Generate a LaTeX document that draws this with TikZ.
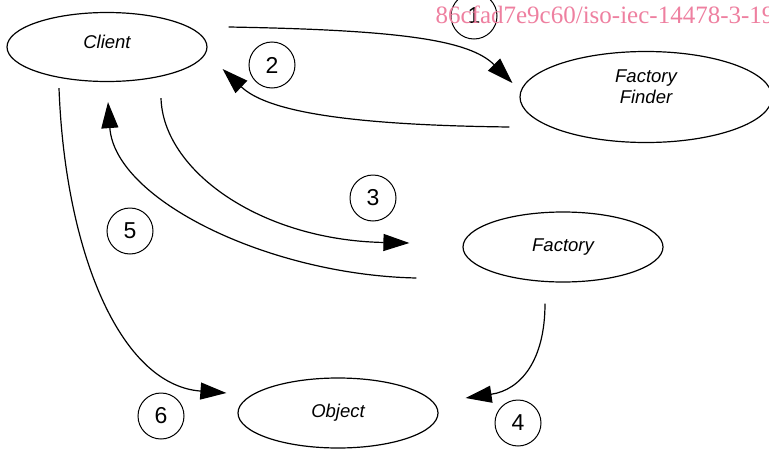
\documentclass[tikz,border=0pt]{standalone}
\usepackage{fontspec}
\setmainfont{Liberation Sans}
\newfontfamily\markfont{Liberation Serif}
\usetikzlibrary{arrows.meta,shapes.geometric}
\definecolor{markpink}{RGB}{238,128,160}

\begin{document}
\begin{tikzpicture}[x=1pt,y=-1pt,line width=1.2pt,
	flow/.style={-{Triangle[length=26pt,width=17pt]}},
	part/.style={ellipse,draw,inner sep=1pt,font=\fontsize{18.5}{21}\selectfont\itshape},
	stepno/.style={circle,draw,line width=1pt,minimum size=46pt,inner sep=0pt,font=\fontsize{23}{25}\selectfont}]
	\useasboundingbox (0,0) rectangle (769,450);
	
	\node[part,minimum width=200pt,minimum height=69pt,text depth=10pt] (client) at (107,47) {Client};
	\node[part,minimum width=252pt,minimum height=91pt,align=center,text depth=20pt] (finder) at (646,97) {Factory\\Finder};
	\node[part,minimum width=200pt,minimum height=70pt] (factory) at (563,247) {Factory};
	\node[part,minimum width=200pt,minimum height=70pt] (object) at (338,413) {Object};
	
	\node[stepno] (s1) at (474,16) {1};
	\node[stepno] (s2) at (272,65) {2};
	\node[stepno] (s3) at (373,198) {3};
	\node[stepno] (s4) at (518,423) {4};
	\node[stepno] (s5) at (130,231) {5};
	\node[stepno] (s6) at (161,416) {6};
	
	\draw[flow] ([shift={(21,-20)}]client.east) .. controls +(172,3) and +(-43,-43) .. ([shift={(-7,-14)}]finder.west);
	\draw[flow] ([shift={(-10,30)}]finder.west) .. controls +(-170,-2) and +(43,41) .. ([shift={(15,22)}]client.east);
	\draw[flow] ([shift={(54,16)}]client.south) .. controls +(2,72) and +(-150,-3) .. ([shift={(-53,-4)}]factory.west);
	\draw[flow] ([shift={(-18,21)}]factory.south) .. controls +(0,57) and +(55,-8) .. ([shift={(27,-15)}]object.east);
	\draw[flow] ([shift={(-46,31)}]factory.west) .. controls +(-147,-3) and +(7,98) .. ([shift={(1,20)}]client.south);
	\draw[flow] ([shift={(-48,6)}]client.south) .. controls +(6,162) and +(-107,-8) .. ([shift={(-11,-20)}]object.west);
	
	\node[anchor=base west,inner sep=0pt,text=markpink,font=\markfont\fontsize{25}{27}\selectfont] (mark) at (435,23) {86cfad7e9c60/iso-iec-14478-3-19};
\end{tikzpicture}
\end{document}
